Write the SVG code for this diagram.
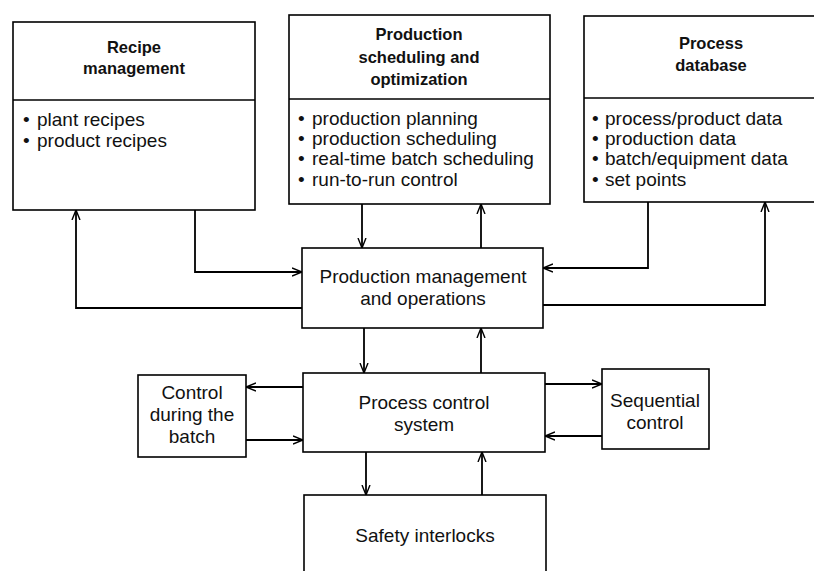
<svg xmlns="http://www.w3.org/2000/svg" width="814" height="571" viewBox="0 0 814 571">
<defs>
<style>
.box{fill:#fff;stroke:#000;stroke-width:1.6}
.div{stroke:#000;stroke-width:1.4;fill:none}
.t{font-family:"Liberation Sans",Arial,sans-serif;font-size:19px;fill:#111}
.c{text-anchor:middle}
.h{font-family:"Liberation Sans",Arial,sans-serif;font-size:16.5px;font-weight:bold;fill:#111;text-anchor:middle}
.ln{fill:none;stroke:#000;stroke-width:1.8;marker-end:url(#ah)}
</style>
<marker id="ah" viewBox="0 0 10 10" refX="10" refY="5" markerWidth="10" markerHeight="10" markerUnits="userSpaceOnUse" orient="auto">
<path d="M0,1 L10,5 L0,9" fill="none" stroke="#000" stroke-width="1.4"/>
</marker>
</defs>
<rect width="814" height="571" fill="#fff"/>

<g id="recipe">
<rect class="box" x="13" y="22" width="242" height="188"/>
<line class="div" x1="13" y1="100" x2="255" y2="100"/>
<text class="h" x="134" y="53">Recipe</text>
<text class="h" x="134" y="74">management</text>
<text class="t" x="23" y="126">•<tspan x="37">plant recipes</tspan></text>
<text class="t" x="23" y="147">•<tspan x="37">product recipes</tspan></text>
</g>

<g id="scheduling">
<rect class="box" x="289" y="15" width="261" height="189"/>
<line class="div" x1="289" y1="99" x2="550" y2="99"/>
<text class="h" x="419" y="40">Production</text>
<text class="h" x="419" y="62.5">scheduling and</text>
<text class="h" x="419" y="85">optimization</text>
<text class="t" x="298" y="125">•<tspan x="312">production planning</tspan></text>
<text class="t" x="298" y="145">•<tspan x="312">production scheduling</tspan></text>
<text class="t" x="298" y="165">•<tspan x="312">real-time batch scheduling</tspan></text>
<text class="t" x="298" y="186">•<tspan x="312">run-to-run control</tspan></text>
</g>

<g id="database">
<rect class="box" x="584" y="16" width="240" height="186"/>
<line class="div" x1="584" y1="98" x2="814" y2="98"/>
<text class="h" x="711" y="49">Process</text>
<text class="h" x="711" y="71">database</text>
<text class="t" x="592" y="125">•<tspan x="605">process/product data</tspan></text>
<text class="t" x="592" y="145">•<tspan x="605">production data</tspan></text>
<text class="t" x="592" y="165">•<tspan x="605">batch/equipment data</tspan></text>
<text class="t" x="592" y="186">•<tspan x="605">set points</tspan></text>
</g>

<g id="pm">
<rect class="box" x="302" y="248" width="241" height="80"/>
<text class="t c" x="423" y="283">Production management</text>
<text class="t c" x="423" y="305">and operations</text>
</g>

<g id="pcs">
<rect class="box" x="303" y="373" width="242" height="79"/>
<text class="t c" x="424" y="409">Process control</text>
<text class="t c" x="424" y="431">system</text>
</g>

<g id="batch">
<rect class="box" x="138" y="375" width="108" height="82"/>
<text class="t c" x="192" y="399">Control</text>
<text class="t c" x="192" y="421">during the</text>
<text class="t c" x="192" y="443">batch</text>
</g>

<g id="sequential">
<rect class="box" x="602" y="369" width="107" height="80"/>
<text class="t c" x="655" y="407">Sequential</text>
<text class="t c" x="655" y="429">control</text>
</g>

<g id="safety">
<rect class="box" x="304" y="495" width="242" height="90"/>
<text class="t c" x="425" y="542">Safety interlocks</text>
</g>

<g id="connectors">
<path class="ln" d="M362,204 V248"/>
<path class="ln" d="M481,248 V204"/>
<path class="ln" d="M195,210 V272 H302"/>
<path class="ln" d="M302,308 H76 V210"/>
<path class="ln" d="M648,202 V268 H543"/>
<path class="ln" d="M543,305 H765 V202"/>
<path class="ln" d="M364,328 V373"/>
<path class="ln" d="M481,373 V328"/>
<path class="ln" d="M303,387 H246"/>
<path class="ln" d="M246,440 H303"/>
<path class="ln" d="M545,384 H602"/>
<path class="ln" d="M602,436 H545"/>
<path class="ln" d="M366,452 V495"/>
<path class="ln" d="M482,495 V452"/>
</g>
</svg>
